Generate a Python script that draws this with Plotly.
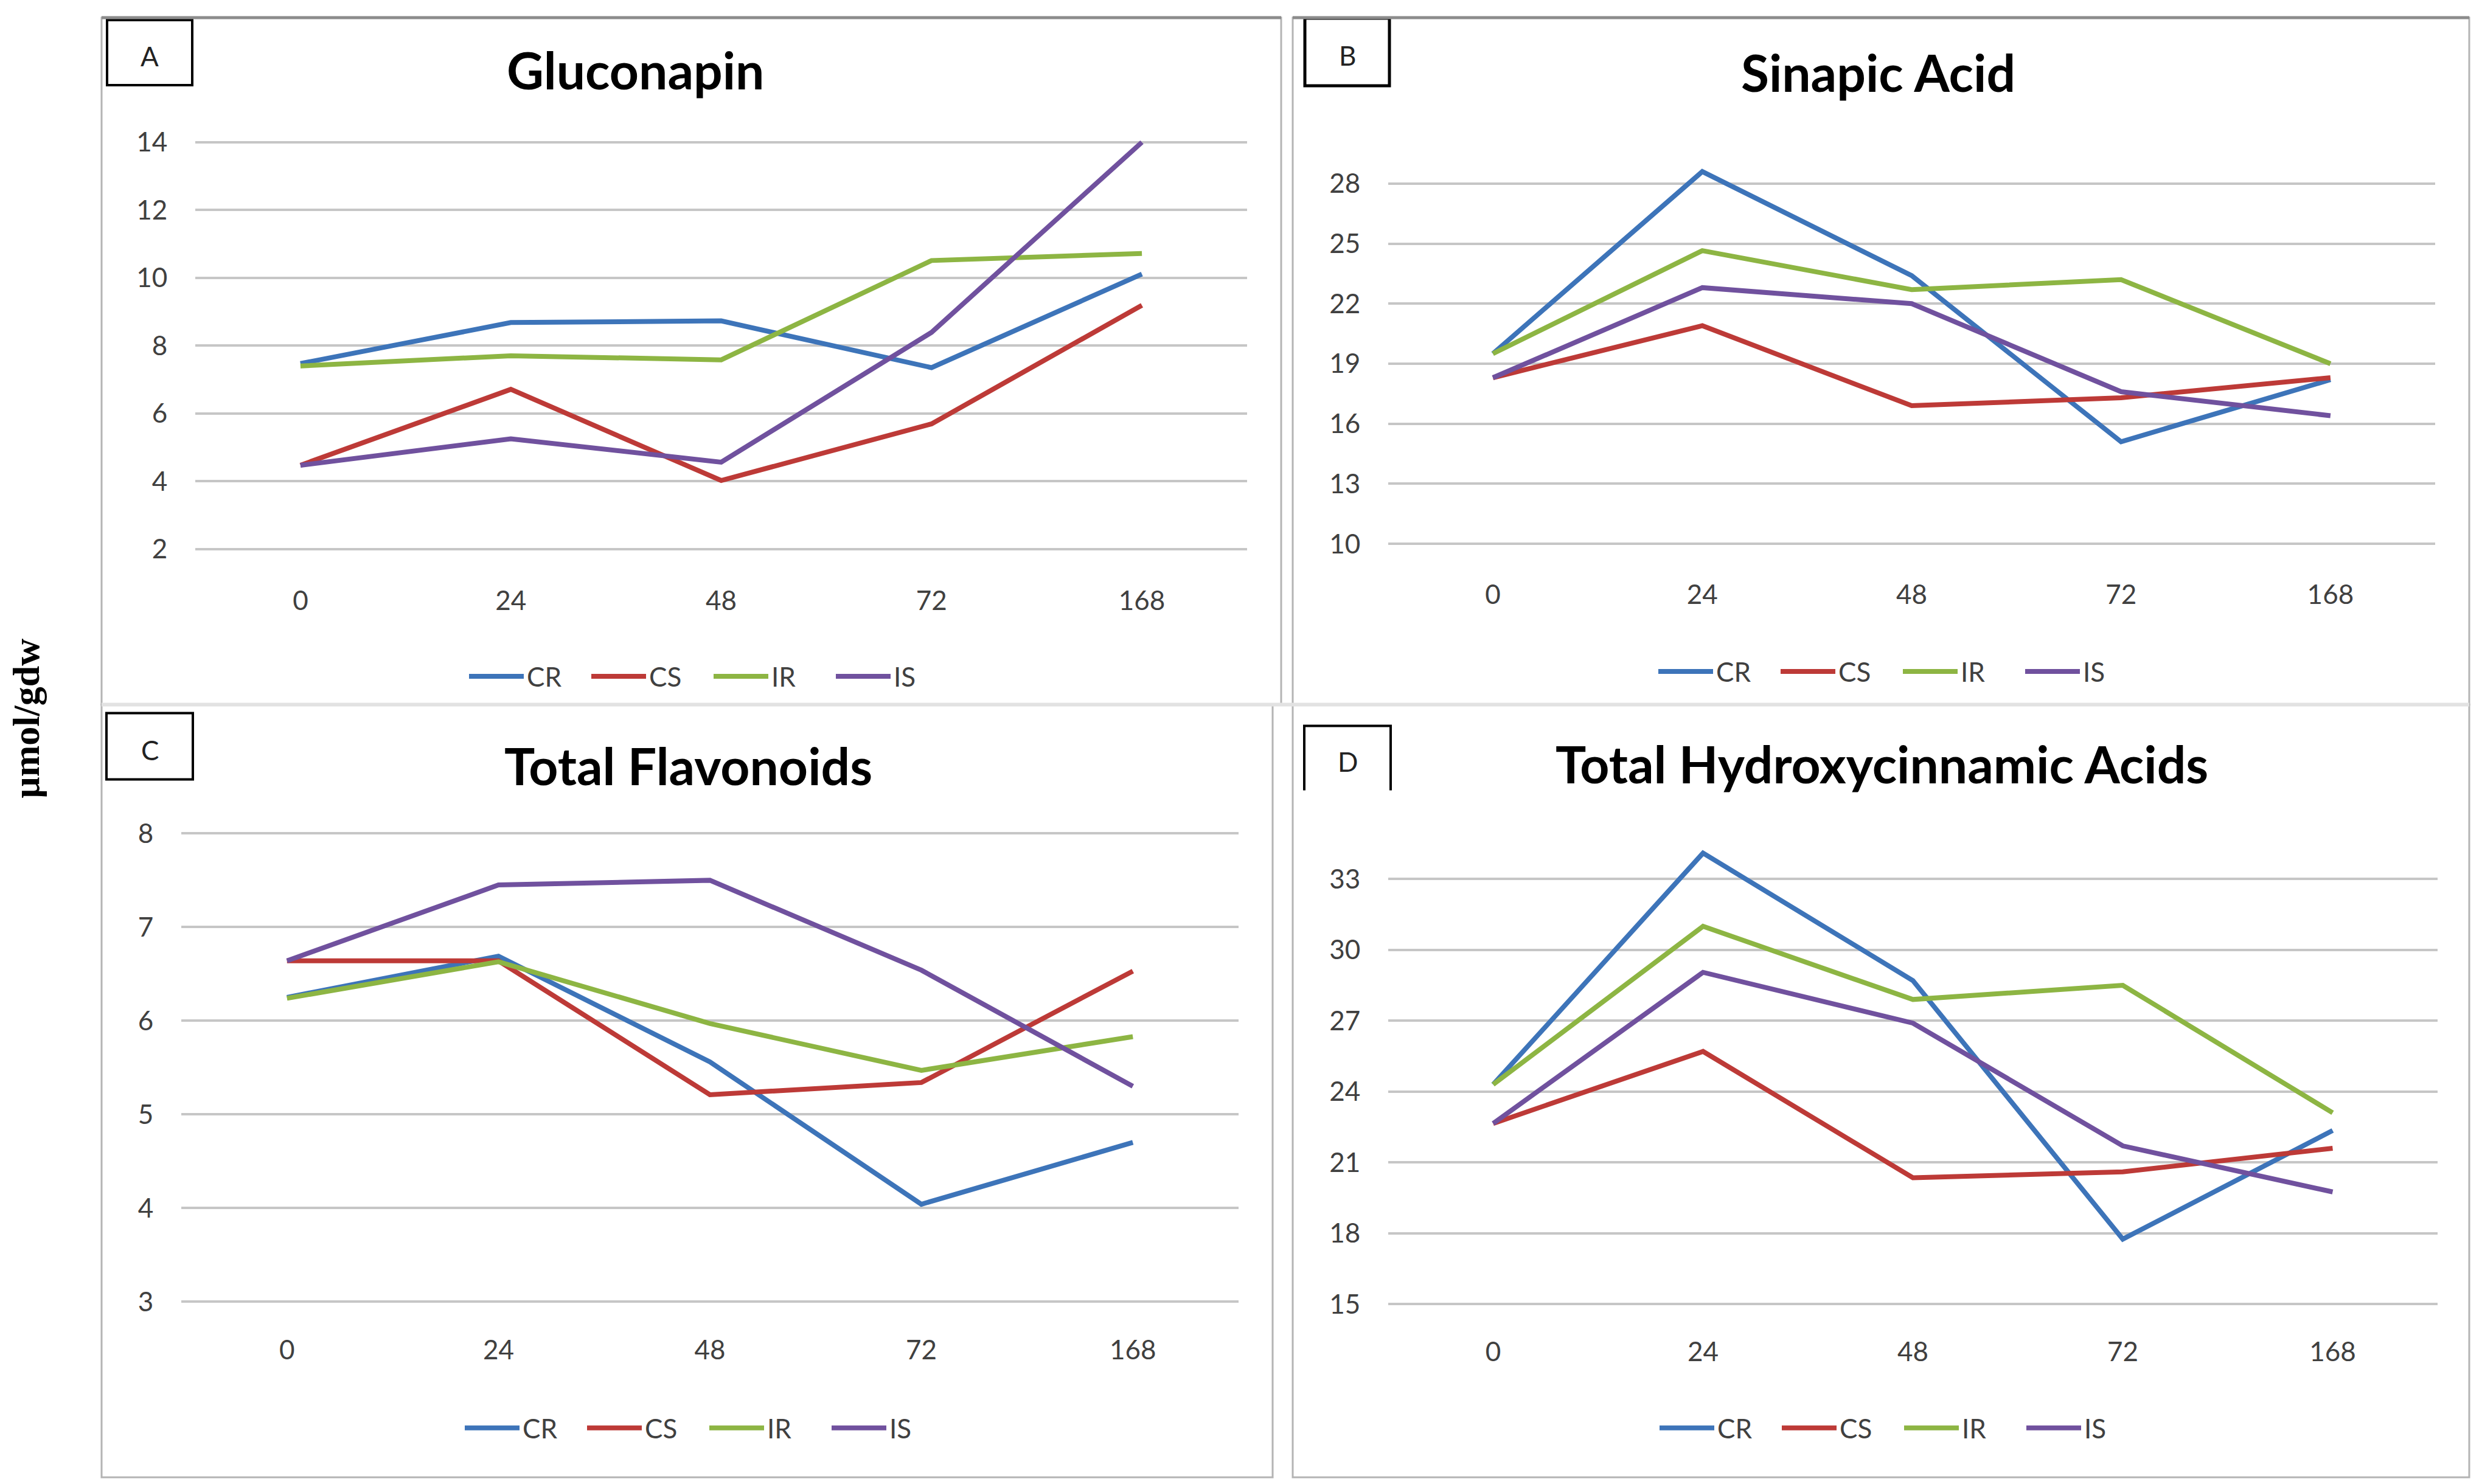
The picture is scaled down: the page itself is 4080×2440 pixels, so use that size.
import plotly.graph_objects as go

W, H = 4080, 2440

# ---------------- data ----------------
times = ["0", "24", "48", "72", "168"]
series = ["CR", "CS", "IR", "IS"]

gluconapin_CR = [7.47, 8.68, 8.73, 7.35, 10.11]
gluconapin_CS = [4.47, 6.71, 4.02, 5.69, 9.19]
gluconapin_IR = [7.40, 7.70, 7.58, 10.51, 10.72]
gluconapin_IS = [4.47, 5.25, 4.56, 8.39, 14.0]

sinapic_CR = [19.5, 28.6, 23.4, 15.1, 18.2]
sinapic_CS = [18.3, 20.9, 16.9, 17.3, 18.3]
sinapic_IR = [19.5, 24.65, 22.7, 23.2, 19.0]
sinapic_IS = [18.3, 22.8, 22.0, 17.6, 16.4]

flavonoids_CR = [6.25, 6.69, 5.56, 4.04, 4.70]
flavonoids_CS = [6.64, 6.64, 5.21, 5.34, 6.53]
flavonoids_IR = [6.24, 6.63, 5.97, 5.47, 5.83]
flavonoids_IS = [6.64, 7.45, 7.50, 6.54, 5.30]

hca_CR = [24.3, 34.1, 28.7, 17.75, 22.35]
hca_CS = [22.65, 25.7, 20.35, 20.6, 21.6]
hca_IR = [24.3, 31.0, 27.9, 28.5, 23.1]
hca_IS = [22.65, 29.05, 26.9, 21.7, 19.75]

yticks_A = [2, 4, 6, 8, 10, 12, 14]
yticks_B = [10, 13, 16, 19, 22, 25, 28]
yticks_C = [3, 4, 5, 6, 7, 8]
yticks_D = [15, 18, 21, 24, 27, 30, 33]

titles = ["Gluconapin", "Sinapic Acid", "Total Flavonoids", "Total Hydroxycinnamic Acids"]
letters = ["A", "B", "C", "D"]
y_label = "μmol/gdw"

# ---------------- styling / layout ----------------
colors = {"CR": "#3D74B9", "CS": "#BD3A37", "IR": "#8DB543", "IS": "#70519E"}
FONT = "Lato"
TICK_COLOR = "#404040"
GRID = "#c6c6c6"


def fx(p):
    # page-offset compensation (horizontal)
    return p - 9


def fy(p):
    # page-offset compensation (vertical)
    return 1.0167 * p - 26.5


def px_x(p):
    return fx(p) / W


def px_y(p):
    return 1 - fy(p) / H


def ydomain(v1, p1, v2, p2, lo, hi):
    q1, q2 = fy(p1), fy(p2)
    s = (q2 - q1) / (v2 - v1)
    plo = q1 + (lo - v1) * s
    phi = q1 + (hi - v1) * s
    return [1 - plo / H, 1 - phi / H]


panels = [
    dict(data=[gluconapin_CR, gluconapin_CS, gluconapin_IR, gluconapin_IS], yticks=yticks_A,
         xdom=[322, 2051], cal=(14, 232, 2, 901), yr=[1.9, 14.15], xlen=41,
         title_xy=(1046, 113), box=(177, 31, 317, 138), leg=(775, 1111)),
    dict(data=[sinapic_CR, sinapic_CS, sinapic_IR, sinapic_IS], yticks=yticks_B,
         xdom=[2283, 4004], cal=(28, 300, 10, 892.5), yr=[9.9, 29.2], xlen=42,
         title_xy=(3088, 117), box=(2146, 28, 2285, 139), leg=(2730, 1103)),
    dict(data=[flavonoids_CR, flavonoids_CS, flavonoids_IR, flavonoids_IS], yticks=yticks_C,
         xdom=[299, 2037], cal=(8, 1369, 3, 2139), yr=[2.97, 8.05], xlen=36,
         title_xy=(1132, 1257), box=(176, 1171, 318, 1280), leg=(768, 2347)),
    dict(data=[hca_CR, hca_CS, hca_IR, hca_IS], yticks=yticks_D,
         xdom=[2283, 4008], cal=(33, 1444, 15, 2143), yr=[14.9, 34.6], xlen=36,
         title_xy=(3094, 1254), box=(2145, 1192, 2287, 1298), leg=(2732, 2347)),
]

fig = go.Figure()
layout = {}
annotations = []
shapes = []

for i, p in enumerate(panels):
    n = "" if i == 0 else str(i + 1)
    legname = "legend" + n
    for name, vals in zip(series, p["data"]):
        fig.add_trace(go.Scatter(
            x=times, y=vals, mode="lines", name=name,
            line=dict(color=colors[name], width=8),
            xaxis="x" + n, yaxis="y" + n, legend=legname, showlegend=True,
        ))
    v1, p1, v2, p2 = p["cal"]
    layout["xaxis" + n] = dict(
        domain=[px_x(p["xdom"][0]), px_x(p["xdom"][1])], anchor="y" + n,
        type="category", range=[-0.5, 4.5], showgrid=False, zeroline=False,
        showline=False, ticks="outside", ticklen=p["xlen"], tickcolor="rgba(0,0,0,0)",
        tickfont=dict(family=FONT, size=44, color=TICK_COLOR), fixedrange=True,
    )
    layout["yaxis" + n] = dict(
        domain=ydomain(v1, p1, v2, p2, p["yr"][0], p["yr"][1]), anchor="x" + n,
        range=p["yr"], tickvals=p["yticks"], showgrid=True, gridcolor=GRID, gridwidth=4,
        zeroline=False, showline=False, ticks="outside", ticklen=36,
        tickcolor="rgba(0,0,0,0)", tickfont=dict(family=FONT, size=44, color=TICK_COLOR),
        fixedrange=True,
    )
    lx, ly = p["leg"]
    layout[legname] = dict(
        orientation="h", x=px_x(lx - 8), xanchor="left", y=px_y(ly), yanchor="middle",
        font=dict(family=FONT, size=44, color=TICK_COLOR), bgcolor="rgba(0,0,0,0)",
        itemwidth=90, entrywidth=96, entrywidthmode="pixels", traceorder="normal",
    )
    tx, ty = p["title_xy"]
    annotations.append(dict(
        text="<b>" + titles[i] + "</b>", x=px_x(tx), y=px_y(ty), xref="paper", yref="paper",
        showarrow=False, xanchor="center", yanchor="middle",
        font=dict(family=FONT, size=84, color="#000000"),
    ))
    bx0, by0, bx1, by1 = p["box"]
    if letters[i] == "D":
        shapes.append(dict(
            type="path", xref="paper", yref="paper",
            path=f"M {px_x(bx0)},{px_y(by1)} L {px_x(bx0)},{px_y(by0)} L {px_x(bx1)},{px_y(by0)} L {px_x(bx1)},{px_y(by1)}",
            line=dict(color="#000000", width=4),
        ))
    else:
        shapes.append(dict(
            type="rect", xref="paper", yref="paper",
            x0=px_x(bx0), x1=px_x(bx1), y0=px_y(by0), y1=px_y(by1),
            line=dict(color="#000000", width=4 if letters[i] != "B" else 5),
        ))
    annotations.append(dict(
        text=letters[i], x=px_x((bx0 + bx1) / 2), y=px_y((by0 + by1) / 2 + 6),
        xref="paper", yref="paper", showarrow=False, xanchor="center", yanchor="middle",
        font=dict(family=FONT, size=44, color="#222222"),
    ))

# panel frames
TOP = 27  # top edge (after offset compensation it sits at the very top)
frames = [(168, TOP, 2107, 1157), (2126, TOP, 4060, 1157), (168, 1157, 2093, 2428), (2126, 1157, 4060, 2428)]
for (x0, y0, x1, y1) in frames:
    shapes.append(dict(type="rect", xref="paper", yref="paper",
                       x0=px_x(x0), x1=px_x(x1), y0=px_y(y0), y1=px_y(y1),
                       line=dict(color="#b4b4b4", width=3), layer="below"))
for (x0, x1) in [(168, 2107), (2126, 4060)]:
    shapes.append(dict(type="line", xref="paper", yref="paper",
                       x0=px_x(x0), x1=px_x(x1), y0=px_y(TOP), y1=px_y(TOP),
                       line=dict(color="#8c8c8c", width=5)))
shapes.append(dict(type="line", xref="paper", yref="paper",
                   x0=px_x(168), x1=px_x(4060), y0=px_y(1157), y1=px_y(1157),
                   line=dict(color="#e2e2e2", width=6)))

annotations.append(dict(
    text="<b>" + y_label + "</b>", x=px_x(44), y=px_y(1180), xref="paper", yref="paper",
    showarrow=False, textangle=-90, xanchor="center", yanchor="middle",
    font=dict(family="Liberation Serif", size=62, color="#000000"),
))

fig.update_layout(
    width=W, height=H, margin=dict(l=0, r=0, t=0, b=0),
    paper_bgcolor="white", plot_bgcolor="white",
    annotations=annotations, shapes=shapes, **layout,
)

fig.write_html("out.html", config={"displayModeBar": False})
